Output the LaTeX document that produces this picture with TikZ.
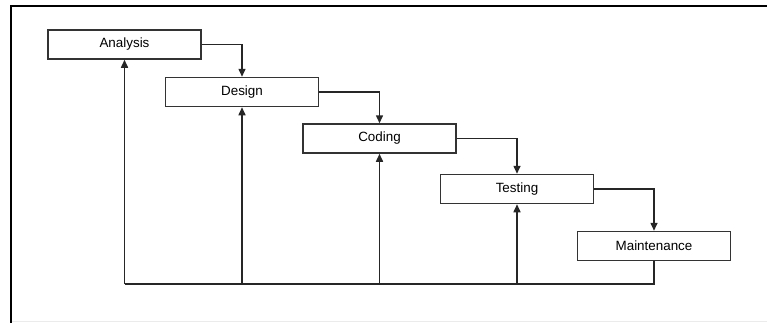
\documentclass[tikz,border=0pt]{standalone}
\usepackage{fontspec}
\setmainfont{Liberation Sans}
\usetikzlibrary{arrows.meta}
\begin{document}
\begin{tikzpicture}[x=1pt,y=-1pt,
  phase/.style={draw=black!80,line width=1.5pt,fill=white,minimum width=153pt,minimum height=29pt,inner sep=0pt,font=\fontsize{13.4}{15}\selectfont},
  conn/.style={draw=black!85,line width=1.5pt},
  arr/.style={conn,-{Triangle[length=8pt,width=7pt]}}]
\useasboundingbox (0,0) rectangle (767,322);
\fill[white] (0,0) rectangle (767,322);
\draw[line width=2.2pt] (11,323) -- (11,6) -- (768,6);
\draw[black!8,line width=1pt] (12,321.5) -- (767,321.5);
\node[phase] (A) at (124.5,44.5) {Analysis};
\node[phase] (D) at (242,92) {Design};
\node[phase] (C) at (379.5,138.5) {Coding};
\node[phase] (T) at (517,189) {Testing};
\node[phase] (M) at (654,246) {Maintenance};
\coordinate (fb) at (124.5,284);
\draw[arr] (A.east) -| (D.north);
\draw[arr] (D.east) -| (C.north);
\draw[arr] (C.east) -| (T.north);
\draw[arr] (T.east) -| (M.north);
\draw[conn] (M.south) |- (fb);
\draw[arr] (fb) -- (A.south);
\draw[arr] (D.south |- fb) -- (D.south);
\draw[arr] (C.south |- fb) -- (C.south);
\draw[arr] (T.south |- fb) -- (T.south);
\end{tikzpicture}
\end{document}
